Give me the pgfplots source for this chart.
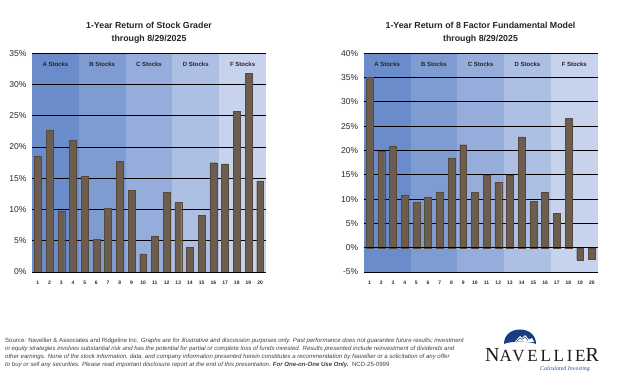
\documentclass[border=0pt]{standalone}
\usepackage{fontspec}
\setmainfont{Liberation Sans}
\newfontfamily\logofont[LetterSpace=16]{Liberation Serif}
\newfontfamily\seriffont{Liberation Serif}
\usepackage{pgfplots}
\pgfplotsset{compat=1.18}
\definecolor{bandA}{RGB}{106,140,203}
\definecolor{bandB}{RGB}{127,156,210}
\definecolor{bandC}{RGB}{150,172,218}
\definecolor{bandD}{RGB}{174,191,228}
\definecolor{bandF}{RGB}{199,210,237}
\definecolor{barc}{RGB}{108,93,78}
\definecolor{navy}{RGB}{22,62,128}
\definecolor{logoblue}{RGB}{40,80,160}
\definecolor{ticktext}{RGB}{40,40,40}

\pgfplotstableread{
x y
1 18.6
2 22.7
3 9.8
4 21.1
5 15.3
6 5.2
7 10.2
8 17.7
9 13.1
10 2.9
11 5.8
12 12.7
13 11.1
14 3.9
15 9.1
16 17.5
17 17.3
18 25.7
19 31.8
20 14.6
}\gradertable

\pgfplotstableread{
x y
1 35.0
2 19.8
3 20.9
4 10.8
5 9.3
6 10.4
7 11.5
8 18.5
9 21.2
10 11.4
11 15.0
12 13.5
13 15.0
14 22.8
15 9.5
16 11.4
17 7.1
18 26.6
19 -2.5
20 -2.3
}\factortable

\tikzset{bandlabel/.style={font=\fontsize{6}{7}\selectfont\bfseries, text=black!85}}
\pgfplotsset{
  mystyle/.style={
    scale only axis, width=234pt, height=218.7pt,
    xmin=0.5, xmax=20.5,
    xtick={1,...,20},
    axis line style={draw=none},
    major tick length=0pt,
    /pgf/number format/assume math mode=true,
    xticklabel style={font=\fontsize{5}{6}\selectfont\bfseries, text=ticktext, yshift=-5.5pt},
    yticklabel style={font=\fontsize{8.5}{10}\selectfont, text=ticktext, xshift=-2pt},
    ybar, bar width=6.9pt,
    clip=false,
  },
}

\begin{document}
\begin{tikzpicture}[x=1pt,y=1pt]
\fill[white] (0,0) rectangle (624,381);
\useasboundingbox (0,0) rectangle (624,381);

% Left chart
\begin{axis}[mystyle, at={(32pt,109pt)}, anchor=south west,
  ymin=0, ymax=35, ytick={0,5,...,35},
  yticklabels={0\%,5\%,10\%,15\%,20\%,25\%,30\%,35\%}]
  \fill[bandA] (axis cs:0.5,0) rectangle (axis cs:4.5,35);
  \fill[bandB] (axis cs:4.5,0) rectangle (axis cs:8.5,35);
  \fill[bandC] (axis cs:8.5,0) rectangle (axis cs:12.5,35);
  \fill[bandD] (axis cs:12.5,0) rectangle (axis cs:16.5,35);
  \fill[bandF] (axis cs:16.5,0) rectangle (axis cs:20.5,35);
  \pgfplotsinvokeforeach{0,5,...,35}{\draw[line width=1pt, black] (axis cs:0.5,#1) -- (axis cs:20.5,#1);}
  \node[bandlabel] at (axis cs:2.5,33.3) {A Stocks};
  \node[bandlabel] at (axis cs:6.5,33.3) {B Stocks};
  \node[bandlabel] at (axis cs:10.5,33.3) {C Stocks};
  \node[bandlabel] at (axis cs:14.5,33.3) {D Stocks};
  \node[bandlabel] at (axis cs:18.5,33.3) {F Stocks};
  \addplot[fill=barc, draw=barc!80!black, line width=0.3pt] table[x=x,y=y] {\gradertable};
  \draw[line width=1pt, black] (axis cs:0.5,0) -- (axis cs:20.5,0);
\end{axis}

% Right chart
\begin{axis}[mystyle, at={(363.7pt,109pt)}, anchor=south west,
  ymin=-5, ymax=40, ytick={-5,0,...,40},
  yticklabels={-5\%,0\%,5\%,10\%,15\%,20\%,25\%,30\%,35\%,40\%}]
  \fill[bandA] (axis cs:0.5,-5) rectangle (axis cs:4.5,40);
  \fill[bandB] (axis cs:4.5,-5) rectangle (axis cs:8.5,40);
  \fill[bandC] (axis cs:8.5,-5) rectangle (axis cs:12.5,40);
  \fill[bandD] (axis cs:12.5,-5) rectangle (axis cs:16.5,40);
  \fill[bandF] (axis cs:16.5,-5) rectangle (axis cs:20.5,40);
  \pgfplotsinvokeforeach{-5,0,...,40}{\draw[line width=1pt, black] (axis cs:0.5,#1) -- (axis cs:20.5,#1);}
  \node[bandlabel] at (axis cs:2.5,37.8) {A Stocks};
  \node[bandlabel] at (axis cs:6.5,37.8) {B Stocks};
  \node[bandlabel] at (axis cs:10.5,37.8) {C Stocks};
  \node[bandlabel] at (axis cs:14.5,37.8) {D Stocks};
  \node[bandlabel] at (axis cs:18.5,37.8) {F Stocks};
  \addplot[fill=barc, draw=barc!80!black, line width=0.3pt] table[x=x,y=y] {\factortable};
  \draw[line width=1pt, black] (axis cs:0.5,0) -- (axis cs:20.5,0);
\end{axis}

% Titles
\node[align=center, font=\fontsize{8.8}{13}\selectfont\bfseries, text=black!85] at (149,348.5) {1-Year Return of Stock Grader\\through 8/29/2025};
\node[align=center, font=\fontsize{8.8}{13}\selectfont\bfseries, text=black!85] at (480.5,348.5) {1-Year Return of 8 Factor Fundamental Model\\through 8/29/2025};

% Footer
\node[anchor=north west, inner sep=0pt, align=left, font=\fontsize{6.05}{8.2}\selectfont, text=black!75] at (5,43.5) {Source: Navellier \& Associates and Ridgeline Inc. \itshape Graphs are for illustrative and discussion purposes only. Past performance does not guarantee future results; investment\\
\itshape in equity strategies involves substantial risk and has the potential for partial or complete loss of funds invested. Results presented include reinvestment of dividends and\\
\itshape other earnings. None of the stock information, data, and company information presented herein constitutes a recommendation by Navellier or a solicitation of any offer\\
\itshape to buy or sell any securities. Please read important disclosure report at the end of this presentation. \textbf{For One-on-One Use Only.}\ \ \upshape NCD-25-0999};

% Logo
\fill[navy] (504,37) .. controls (504,46) and (511,51.5) .. (520,51.5) .. controls (529,51.5) and (536,46) .. (536,37) .. controls (531,40) and (509,40) .. (504,37) -- cycle;
\fill[white] (515,39.5) -- (520,45) -- (522,43) -- (525,46) -- (529,41.5) -- (532,43) -- (534,39) -- cycle;
\draw[navy, line width=0.5pt] (517,40) -- (520,43) -- (522,41.5) -- (525,44) -- (528,40.5);
\node[anchor=base west, inner sep=0pt, text=black!90] at (485,19.3) {\logofont\fontsize{20}{21}\selectfont N\fontsize{17}{18}\selectfont AVELLIE\fontsize{20}{21}\selectfont R};
\node[anchor=base, inner sep=0pt, text=logoblue] at (565,11) {\seriffont\itshape\fontsize{6}{7}\selectfont Calculated Investing};
\end{tikzpicture}
\end{document}
